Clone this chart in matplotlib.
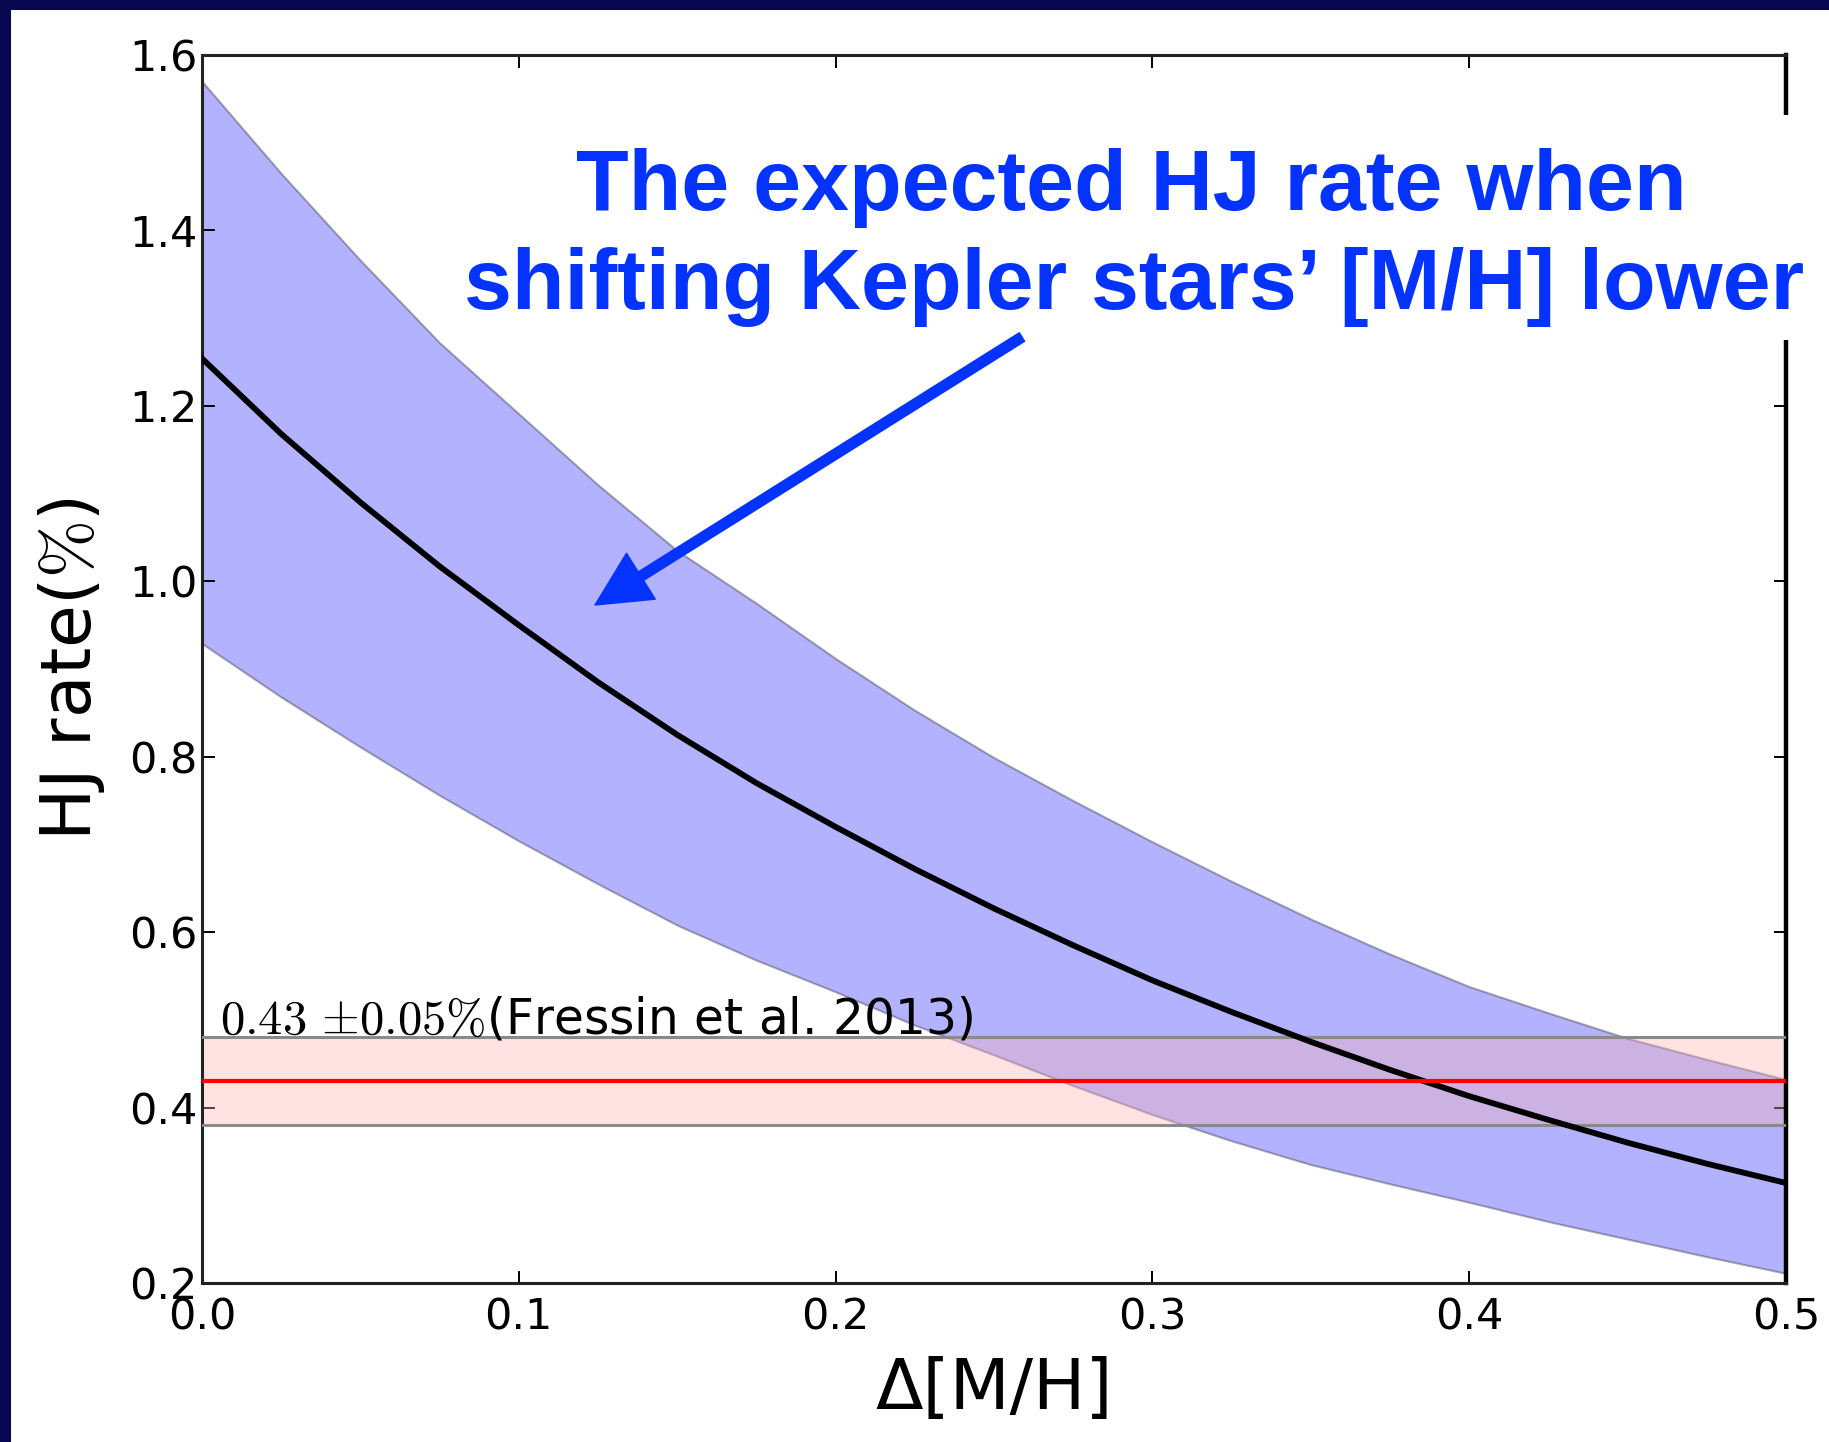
import matplotlib
matplotlib.use('Agg')

import matplotlib.pyplot as plt
from matplotlib.patches import Rectangle

# Values
dmh = [0.0, 0.025, 0.05, 0.075, 0.1, 0.125, 0.15, 0.175, 0.2, 0.225, 0.25,
       0.275, 0.3, 0.325, 0.35, 0.375, 0.4, 0.425, 0.45, 0.475, 0.5]
hj_mid = [1.254, 1.168, 1.090, 1.017, 0.950, 0.885, 0.825, 0.770, 0.720, 0.672, 0.627,
          0.585, 0.545, 0.509, 0.475, 0.443, 0.413, 0.386, 0.360, 0.336, 0.314]
hj_hi = [1.570, 1.465, 1.366, 1.272, 1.191, 1.110, 1.035, 0.975, 0.912, 0.853, 0.799,
         0.750, 0.703, 0.658, 0.615, 0.575, 0.538, 0.508, 0.479, 0.455, 0.432]
hj_lo = [0.929, 0.868, 0.811, 0.756, 0.704, 0.655, 0.608, 0.568, 0.532, 0.494, 0.460,
         0.425, 0.392, 0.362, 0.335, 0.313, 0.292, 0.270, 0.250, 0.230, 0.211]
fressin_rate = 0.43
fressin_err = 0.05

xticks = [0.0, 0.1, 0.2, 0.3, 0.4, 0.5]
yticks = [0.2, 0.4, 0.6, 0.8, 1.0, 1.2, 1.4, 1.6]

plt.rcParams['mathtext.fontset'] = 'cm'

W, H = 1829, 1442
fig = plt.figure(figsize=(W / 100, H / 100), dpi=100)
fig.patch.set_facecolor('white')

ax = fig.add_axes([202 / W, 1 - 1283 / H, (1786 - 202) / W, (1283 - 55) / H])

# model band and expected rate
ax.fill_between(dmh, hj_lo, hj_hi, facecolor='blue', edgecolor='black',
                alpha=0.3, linewidth=1.5, zorder=1)

# Fressin et al. 2013 band
ax.axhspan(fressin_rate - fressin_err, fressin_rate + fressin_err,
           facecolor='#ffb0b0', alpha=0.35, edgecolor='none', zorder=2)
ax.axhline(fressin_rate + fressin_err, color='#8a8a8a', lw=2.2, zorder=3)
ax.axhline(fressin_rate - fressin_err, color='#8a8a8a', lw=2.2, zorder=3)
ax.plot(dmh, hj_mid, color='black', lw=4.2, zorder=4)
ax.axhline(fressin_rate, color='red', lw=3, zorder=5)

ax.text(0.0056, 0.485, r'$0.43$ $\pm0.05\%$(Fressin et al. 2013)',
        fontsize=35, ha='left', va='baseline', zorder=6)

ax.set_xlim(0, 0.5)
ax.set_ylim(0.2, 1.6)
ax.set_xticks(xticks)
ax.set_yticks(yticks)
ax.set_xticklabels([f'{v:.1f}' for v in xticks])
ax.set_yticklabels([f'{v:.1f}' for v in yticks])
ax.tick_params(direction='in', length=9, width=1.4, labelsize=31,
               top=True, right=True)
ax.tick_params(axis='x', pad=10)
ax.tick_params(axis='y', pad=3)

for side in ['left', 'bottom', 'top']:
    ax.spines[side].set_color('#222222')
    ax.spines[side].set_linewidth(2.2)
ax.spines['right'].set_color('black')
ax.spines['right'].set_linewidth(3.2)

ax.set_xlabel('Δ[M/H]', fontsize=50, labelpad=12)
ax.set_ylabel(r'HJ rate($\%$)', fontsize=50, labelpad=16)

# white patch behind the callout text, cutting the right spine
fig.add_artist(Rectangle((1700 / W, 1 - 340 / H), 129 / W, 225 / H,
                         transform=fig.transFigure, facecolor='white',
                         edgecolor='none', zorder=5))

blue = '#0433ff'
fig.text(1131 / W, 1 - 210 / H, 'The expected HJ rate when', color=blue,
         fontsize=62, fontweight='bold', family='Liberation Sans',
         ha='center', va='baseline', zorder=6)
fig.text(1134 / W, 1 - 309 / H, 'shifting Kepler stars’ [M/H] lower', color=blue,
         fontsize=62, fontweight='bold', family='Liberation Sans',
         ha='center', va='baseline', zorder=6)

ax.annotate('', xy=(595 / W, 1 - 605 / H), xycoords='figure fraction',
            xytext=(1022 / W, 1 - 337 / H), textcoords='figure fraction',
            arrowprops=dict(arrowstyle='simple,head_length=3.9,head_width=3.9,tail_width=0.72',
                            mutation_scale=10, color=blue, shrinkA=0, shrinkB=0),
            zorder=7)

# navy frame edges on top and left
navy = '#050850'
fig.add_artist(Rectangle((0, 1 - 10 / H), 1, 10 / H, transform=fig.transFigure,
                         facecolor=navy, edgecolor='none', zorder=8))
fig.add_artist(Rectangle((0, 0), 11 / W, 1, transform=fig.transFigure,
                         facecolor=navy, edgecolor='none', zorder=8))

fig.savefig('out.png', dpi=100)
plt.close(fig)
